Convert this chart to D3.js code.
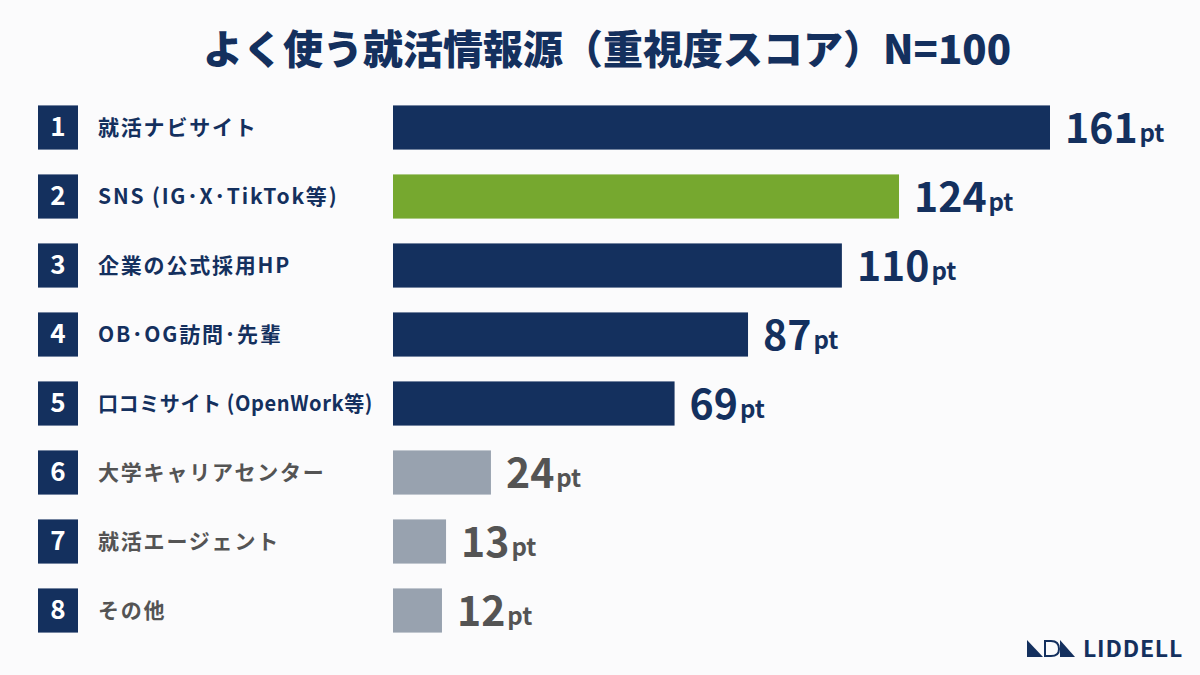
<!DOCTYPE html>
<html>
<head>
<meta charset="utf-8">
<script src="https://cdn.jsdelivr.net/npm/d3@7"></script>
<style>
  body { margin: 0; background: #fbfbfc; }
  text { font-family: "Noto Sans CJK JP", "Noto Sans", sans-serif; }
</style>
</head>
<body>
<div id="chart"></div>
<script>
// Data
const ranks = [1, 2, 3, 4, 5, 6, 7, 8];
const sources = ['就活ナビサイト', 'SNS (IG･X･TikTok等)', '企業の公式採用HP', 'OB･OG訪問･先輩',
                 '口コミサイト (OpenWork等)', '大学キャリアセンター', '就活エージェント', 'その他'];
const scores = [161, 124, 110, 87, 69, 24, 13, 12];
const groups = ['main', 'sns', 'main', 'main', 'main', 'minor', 'minor', 'minor'];

const W = 1200, H = 675;
const navy = '#14305e', green = '#76a82f', grey = '#98a2af', darkText = '#545454';

const svg = d3.select('#chart')
    .append('svg')
    .attr('width', W)
    .attr('height', H);

svg.append('rect').attr('width', W).attr('height', H).attr('fill', '#fbfbfc');

// Title
svg.append('text')
    .attr('x', 607)
    .attr('y', 64)
    .attr('text-anchor', 'middle')
    .attr('font-size', 40)
    .attr('font-weight', 900)
    .attr('fill', navy)
    .text('よく使う就活情報源（重視度スコア）N=100');

// Scales
const x = d3.scaleLinear().domain([0, 161]).range([393, 1050]);
const y = d3.scaleBand()
    .domain(ranks)
    .range([93, 645])
    .paddingInner(0.36)
    .paddingOuter(0.18);

const barColor = d3.scaleOrdinal().domain(['main', 'sns', 'minor']).range([navy, green, grey]);
const textColor = d3.scaleOrdinal().domain(['main', 'sns', 'minor']).range([navy, navy, darkText]);

const rows = svg.selectAll('.row')
    .data(ranks.map((r, i) => ({ rank: r, label: sources[i], value: scores[i], group: groups[i] })))
    .enter().append('g')
    .attr('class', 'row')
    .attr('transform', d => `translate(0, ${y(d.rank)})`);

const bh = y.bandwidth();

// Rank boxes
rows.append('rect')
    .attr('x', 38)
    .attr('width', 40)
    .attr('height', bh)
    .attr('fill', navy);

rows.append('text')
    .attr('x', 58)
    .attr('y', bh / 2 + 9)
    .attr('text-anchor', 'middle')
    .attr('font-size', 26)
    .attr('font-weight', 700)
    .attr('fill', '#fff')
    .text(d => d.rank);

// Category labels (squeeze long ones so they stop before the bars)
const maxLabel = 275;
rows.append('text')
    .attr('x', 98)
    .attr('y', bh / 2 + 8)
    .attr('font-size', 21)
    .attr('font-weight', 700)
    .attr('letter-spacing', 1.8)
    .attr('fill', d => textColor(d.group))
    .text(d => d.label)
    .each(function() {
        if (this.getComputedTextLength() > maxLabel) {
            d3.select(this)
                .attr('letter-spacing', 0.6)
                .attr('textLength', maxLabel)
                .attr('lengthAdjust', 'spacingAndGlyphs');
        }
    });

// Bars
rows.append('rect')
    .attr('x', x(0))
    .attr('width', d => x(d.value) - x(0))
    .attr('height', bh)
    .attr('fill', d => barColor(d.group));

// Value labels
const vl = rows.append('text')
    .attr('x', d => x(d.value) + 15)
    .attr('y', bh / 2 + 15)
    .attr('fill', d => textColor(d.group))
    .attr('font-weight', 700);
vl.append('tspan').attr('font-size', 41).text(d => d.value);
vl.append('tspan').attr('font-size', 24).attr('dx', 2).text('pt');

// Logo
const logo = svg.append('g').attr('transform', 'translate(1027, 640)');
logo.append('path').attr('d', 'M0,0 L0,17 L16,17 Z').attr('fill', navy);
logo.append('path').attr('d', 'M18,1 L24,1 Q32,1 32,9 Q32,16 24,16 L18,16 Z')
    .attr('fill', 'none').attr('stroke', navy).attr('stroke-width', 2);
logo.append('path').attr('d', 'M33,17 L48,17 L33,0 Z').attr('fill', navy);
svg.append('text')
    .attr('x', 1083)
    .attr('y', 657)
    .attr('font-family', 'Lato, sans-serif')
    .attr('font-size', 23)
    .attr('font-weight', 700)
    .attr('letter-spacing', 0.8)
    .attr('fill', navy)
    .text('LIDDELL');
</script>
</body>
</html>
